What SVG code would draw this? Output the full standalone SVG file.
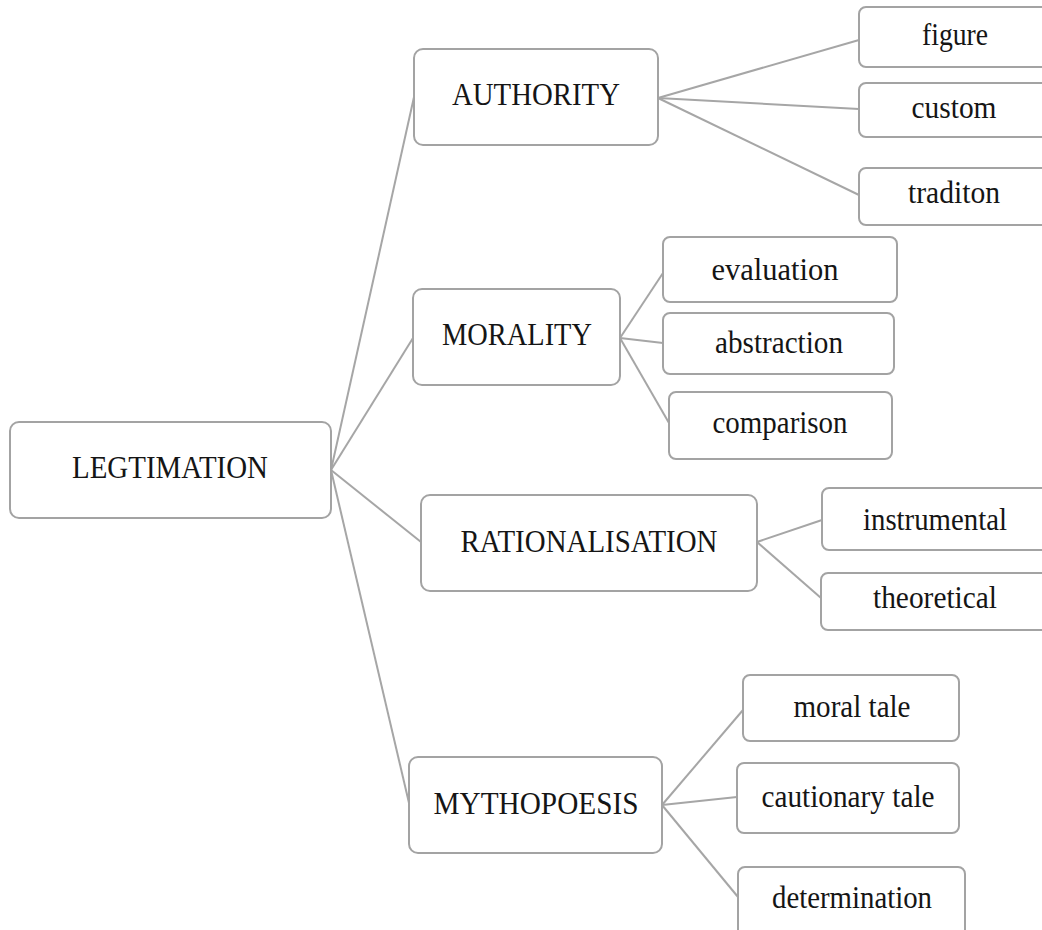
<svg xmlns="http://www.w3.org/2000/svg" width="1042" height="930" viewBox="0 0 1042 930">
<style>
.box{fill:#fff;stroke:#a3a3a3;stroke-width:2}
.lbl{font-family:"Liberation Serif","Times New Roman",serif;font-size:31px;fill:#151515;text-anchor:middle}
.sub{font-family:"Liberation Serif","Times New Roman",serif;font-size:32px;fill:#151515;text-anchor:middle}
.con line{stroke:#a6a6a6;stroke-width:2;fill:none}
</style>
<rect width="1042" height="930" fill="#fff"/>
<g id="connectors" class="con">
<line x1="331" y1="470" x2="414" y2="97"/>
<line x1="331" y1="470" x2="413" y2="338"/>
<line x1="331" y1="470" x2="421" y2="542"/>
<line x1="331" y1="470" x2="409" y2="803"/>
<line x1="658" y1="98" x2="859" y2="40"/>
<line x1="658" y1="98" x2="859" y2="109"/>
<line x1="658" y1="98" x2="859" y2="195"/>
<line x1="620" y1="338" x2="663" y2="273"/>
<line x1="620" y1="338" x2="663" y2="343"/>
<line x1="620" y1="338" x2="669" y2="423"/>
<line x1="757" y1="542" x2="822" y2="520"/>
<line x1="757" y1="542" x2="821" y2="598"/>
<line x1="662" y1="805" x2="743" y2="710"/>
<line x1="662" y1="805" x2="737" y2="797"/>
<line x1="662" y1="805" x2="738" y2="897"/>
</g>
<g id="legtimation"><rect class="box" x="10" y="422" width="321" height="96" rx="9"/><text class="lbl" x="170" y="478" textLength="196" lengthAdjust="spacingAndGlyphs">LEGTIMATION</text></g>
<g id="authority"><rect class="box" x="414" y="49" width="244" height="96" rx="9"/><text class="lbl" x="536" y="105" textLength="168" lengthAdjust="spacingAndGlyphs">AUTHORITY</text></g>
<g id="morality"><rect class="box" x="413" y="289" width="207" height="96" rx="9"/><text class="lbl" x="517" y="345" textLength="150" lengthAdjust="spacingAndGlyphs">MORALITY</text></g>
<g id="rationalisation"><rect class="box" x="421" y="495" width="336" height="96" rx="9"/><text class="lbl" x="589" y="552" textLength="257" lengthAdjust="spacingAndGlyphs">RATIONALISATION</text></g>
<g id="mythopoesis"><rect class="box" x="409" y="757" width="253" height="96" rx="9"/><text class="lbl" x="536" y="814" textLength="205" lengthAdjust="spacingAndGlyphs">MYTHOPOESIS</text></g>
<g id="figure"><rect class="box" x="859" y="7" width="195" height="60" rx="7"/><text class="sub" x="955" y="45" textLength="66" lengthAdjust="spacingAndGlyphs">figure</text></g>
<g id="custom"><rect class="box" x="859" y="83" width="195" height="54" rx="7"/><text class="sub" x="954" y="118" textLength="85" lengthAdjust="spacingAndGlyphs">custom</text></g>
<g id="traditon"><rect class="box" x="859" y="168" width="195" height="57" rx="7"/><text class="sub" x="954" y="203" textLength="92" lengthAdjust="spacingAndGlyphs">traditon</text></g>
<g id="evaluation"><rect class="box" x="663" y="237" width="234" height="65" rx="7"/><text class="sub" x="775" y="280" textLength="127" lengthAdjust="spacingAndGlyphs">evaluation</text></g>
<g id="abstraction"><rect class="box" x="663" y="313" width="231" height="61" rx="7"/><text class="sub" x="779" y="353" textLength="128" lengthAdjust="spacingAndGlyphs">abstraction</text></g>
<g id="comparison"><rect class="box" x="669" y="392" width="223" height="67" rx="7"/><text class="sub" x="780" y="433" textLength="135" lengthAdjust="spacingAndGlyphs">comparison</text></g>
<g id="instrumental"><rect class="box" x="822" y="488" width="230" height="62" rx="7"/><text class="sub" x="935" y="530" textLength="144" lengthAdjust="spacingAndGlyphs">instrumental</text></g>
<g id="theoretical"><rect class="box" x="821" y="573" width="230" height="57" rx="7"/><text class="sub" x="935" y="608" textLength="124" lengthAdjust="spacingAndGlyphs">theoretical</text></g>
<g id="moral-tale"><rect class="box" x="743" y="675" width="216" height="66" rx="7"/><text class="sub" x="852" y="717" textLength="117" lengthAdjust="spacingAndGlyphs">moral tale</text></g>
<g id="cautionary-tale"><rect class="box" x="737" y="763" width="222" height="70" rx="7"/><text class="sub" x="848" y="807" textLength="173" lengthAdjust="spacingAndGlyphs">cautionary tale</text></g>
<g id="determination"><rect class="box" x="738" y="867" width="227" height="80" rx="7"/><text class="sub" x="852" y="908" textLength="160" lengthAdjust="spacingAndGlyphs">determination</text></g>
</svg>
